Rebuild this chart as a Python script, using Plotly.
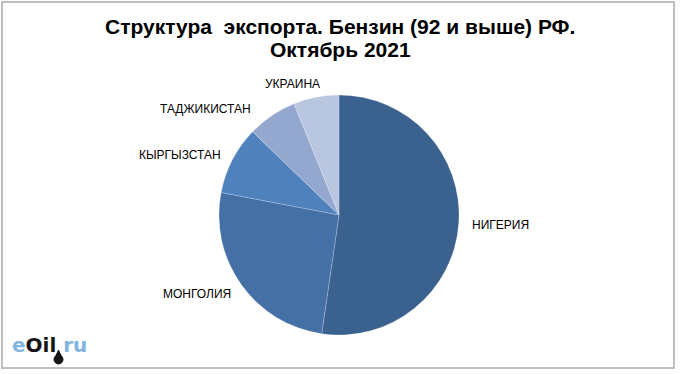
import math
import plotly.graph_objects as go

labels = ["НИГЕРИЯ", "МОНГОЛИЯ", "КЫРГЫЗСТАН", "ТАДЖИКИСТАН", "УКРАИНА"]
values = [52.3, 25.7, 9.2, 6.7, 6.1]
colors = ["#3B618F", "#4470A6", "#4F81BD", "#94A8CF", "#B9C6E0"]

title_line1 = "Структура  экспорта. Бензин (92 и выше) РФ."
title_line2 = "Октябрь 2021"

W, H = 680, 374
cx, cy, R = 339, 215, 120

# label anchor points (pixels from top-left), layout only
label_pos = {
    "НИГЕРИЯ": (500, 225),
    "МОНГОЛИЯ": (197, 294),
    "КЫРГЫЗСТАН": (180, 155),
    "ТАДЖИКИСТАН": (206, 109),
    "УКРАИНА": (292, 84),
}

def px(x):
    return x / W

def py(y):
    return 1 - y / H

fig = go.Figure()
fig.add_trace(go.Pie(
    labels=labels,
    values=values,
    sort=False,
    direction="clockwise",
    rotation=0,
    marker=dict(colors=colors, line=dict(color="rgba(255,255,255,0.35)", width=0.6)),
    textinfo="none",
    hoverinfo="label+percent",
    showlegend=False,
    domain=dict(x=[px(cx - R), px(cx + R)], y=[py(cy + R), py(cy - R)]),
))

font_lbl = dict(family="Liberation Sans, Arial", size=12, color="#000000")
for lab in labels:
    x, y = label_pos[lab]
    fig.add_annotation(x=px(x), y=py(y), xref="paper", yref="paper",
                       text=lab, showarrow=False, xanchor="center", yanchor="middle",
                       font=font_lbl)

font_title = dict(family="Liberation Sans, Arial", size=21, color="#000000")
fig.add_annotation(x=px(340), y=py(27), xref="paper", yref="paper", text="<b>" + title_line1 + "</b>",
                   showarrow=False, xanchor="center", yanchor="middle", font=font_title)
fig.add_annotation(x=px(340), y=py(50), xref="paper", yref="paper", text="<b>" + title_line2 + "</b>",
                   showarrow=False, xanchor="center", yanchor="middle", font=font_title)

# logo
fig.add_annotation(x=px(10), y=py(345), xref="paper", yref="paper",
                   text="<b><span style='color:#7FB5DE'>e</span><span style='color:#151515'>Oil</span>"
                        "<span style='color:#7FB5DE'> ru</span></b>",
                   showarrow=False, xanchor="left", yanchor="middle",
                   font=dict(family="DejaVu Sans", size=20))
fig.add_shape(type="circle", xref="paper", yref="paper",
              x0=px(54), x1=px(63), y0=py(364), y1=py(355),
              fillcolor="#151515", line=dict(color="#151515", width=1))
fig.add_shape(type="path", xref="paper", yref="paper",
              path=f"M {px(55)} {py(358)} L {px(58.5)} {py(350)} L {px(62)} {py(358)} Z",
              fillcolor="#151515", line=dict(color="#151515", width=1))

fig.add_shape(type="rect", xref="paper", yref="paper",
              x0=px(2), x1=px(674), y0=py(368), y1=py(2),
              line=dict(color="#BFBFBF", width=2))

fig.update_layout(width=W, height=H, margin=dict(l=0, r=0, t=0, b=0),
                  paper_bgcolor="white", plot_bgcolor="white")

fig.write_html("out.html", config={"displayModeBar": False},
               post_script="document.body.style.margin='0';")
